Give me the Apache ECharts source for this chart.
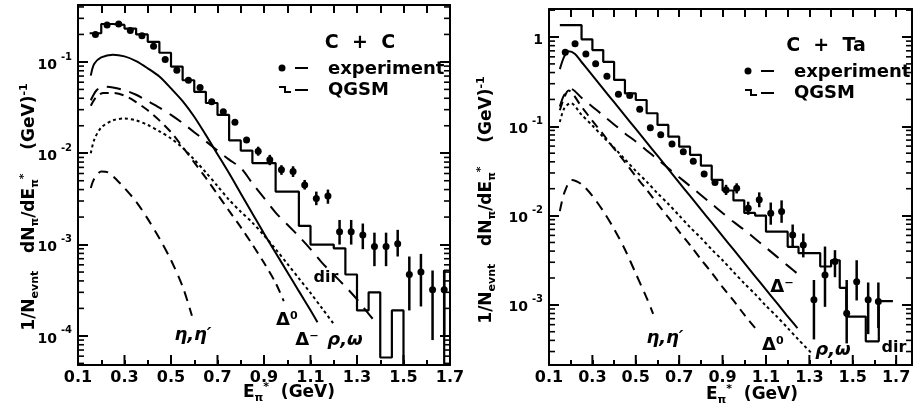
<!DOCTYPE html>
<html>
<head>
<meta charset="utf-8">
<script src="https://cdn.jsdelivr.net/npm/echarts@6/dist/echarts.min.js"></script>
<style>
  html, body { margin: 0; padding: 0; background: #fff; }
  #chart { width: 917px; height: 412px; }
</style>
</head>
<body>
<div id="chart"></div>
<script>
// ---------- data ----------
const xLabelVals = [0.1, 0.3, 0.5, 0.7, 0.9, 1.1, 1.3, 1.5, 1.7];

// C + C panel
const ccHistEdges = [0.15,0.20,0.25,0.30,0.35,0.40,0.45,0.50,0.55,0.60,0.65,0.70,0.75,0.80,0.85,0.90,0.95,1.00,1.05,1.10,1.15,1.20,1.25,1.30,1.35,1.40,1.45,1.50,1.675,1.70];
const ccHistVals = [0.206,0.260,0.254,0.232,0.200,0.166,0.126,0.089,0.063,0.047,0.0355,0.0263,0.0138,0.0107,0.0078,0.0078,0.0038,0.0038,0.0016,0.0010,0.0010,0.00091,0.00047,0.00019,0.00030,0.000058,0.00019,0.00001,0.00052];

const ccExpE  = [0.175,0.225,0.275,0.325,0.375,0.425,0.475,0.525,0.575,0.625,0.675,0.725,0.775,0.825,0.875,0.925,0.975,1.025,1.075,1.125,1.175,1.225,1.275,1.325,1.375,1.425,1.475,1.525,1.575,1.625,1.675];
const ccExpY  = [0.1995,0.254,0.260,0.221,0.193,0.148,0.106,0.0813,0.0631,0.0525,0.0367,0.0285,0.0219,0.0140,0.0105,0.0085,0.0066,0.0063,0.0045,0.0032,0.0034,0.00138,0.00138,0.00127,0.00095,0.00095,0.00102,0.00047,0.00050,0.00032,0.00032];
const ccExpLo = [null,null,null,null,null,null,null,null,null,null,null,null,null,null,0.0094,0.0074,0.0058,0.0055,0.0040,0.0027,0.0028,0.0010,0.0010,0.00089,0.00058,0.00058,0.00074,0.00019,0.00021,0.00009,0.00010];
const ccExpHi = [null,null,null,null,null,null,null,null,null,null,null,null,null,null,0.0118,0.0096,0.0074,0.0072,0.0051,0.0038,0.0040,0.00186,0.00186,0.0017,0.00135,0.00135,0.00145,0.00074,0.00079,0.00052,0.00052];

const ccSolidE = [0.155,0.17,0.2,0.25,0.3,0.35,0.4,0.45,0.5,0.55,0.6,0.65,0.7,0.75,0.8,0.85,0.9,0.95,1.0,1.05,1.1,1.13];
const ccSolidY = [0.0708,0.0955,0.112,0.120,0.115,0.102,0.0851,0.0692,0.0513,0.0372,0.0251,0.0158,0.00977,0.00603,0.00363,0.00219,0.00132,0.000813,0.000501,0.000309,0.000191,0.000141];
const ccLongE = [0.155,0.18,0.21,0.25,0.3,0.35,0.4,0.45,0.5,0.55,0.6,0.65,0.7,0.75,0.8,0.85,0.9,0.95,1.0,1.05,1.1,1.15,1.2,1.25,1.3,1.35,1.38];
const ccLongY = [0.0380,0.0490,0.0537,0.0525,0.0490,0.0437,0.0372,0.0316,0.0263,0.0214,0.0170,0.0135,0.0107,0.00851,0.00692,0.00468,0.00324,0.00224,0.00166,0.00123,0.000891,0.000631,0.000468,0.000347,0.000251,0.000174,0.000141];
const ccMedE = [0.155,0.18,0.21,0.25,0.3,0.35,0.4,0.45,0.5,0.55,0.6,0.65,0.7,0.75,0.8,0.85,0.9,0.95,0.985];
const ccMedY = [0.0331,0.0417,0.0457,0.0457,0.0427,0.0363,0.0295,0.0229,0.0170,0.0117,0.00794,0.00537,0.00355,0.00234,0.00155,0.00100,0.000631,0.000380,0.000240];
const ccDotE = [0.155,0.17,0.2,0.25,0.3,0.35,0.4,0.45,0.5,0.55,0.6,0.65,0.7,0.75,0.8,0.85,0.9,0.95,1.0,1.05,1.1,1.15,1.2];
const ccDotY = [0.0100,0.0141,0.0191,0.0229,0.0240,0.0229,0.0204,0.0174,0.0145,0.0115,0.00851,0.00617,0.00437,0.00309,0.00229,0.00174,0.00126,0.000891,0.000617,0.000427,0.000295,0.000200,0.000135];
const ccEtaE = [0.155,0.17,0.2,0.23,0.27,0.3,0.35,0.4,0.45,0.5,0.55,0.59];
const ccEtaY = [0.00417,0.00525,0.00631,0.00617,0.00501,0.00417,0.00295,0.00191,0.00117,0.000676,0.000347,0.000166];

// C + Ta panel
const ctHistEdges = [0.15,0.20,0.25,0.30,0.35,0.40,0.45,0.50,0.55,0.60,0.65,0.70,0.75,0.80,0.85,0.90,0.95,1.00,1.05,1.10,1.15,1.20,1.25,1.30,1.35,1.40,1.44,1.47,1.56,1.62,1.685];
const ctHistVals = [1.36,1.36,0.942,0.714,0.528,0.331,0.234,0.197,0.140,0.1035,0.0766,0.0592,0.0479,0.0363,0.0251,0.0191,0.0148,0.0107,0.0100,0.0066,0.0066,0.00447,0.0038,0.0038,0.00269,0.00316,0.00155,0.00074,0.00039,0.0011];

const ctExpE  = [0.175,0.22,0.27,0.315,0.367,0.42,0.472,0.518,0.567,0.615,0.667,0.719,0.765,0.815,0.865,0.916,0.965,1.018,1.069,1.122,1.172,1.223,1.272,1.321,1.372,1.418,1.472,1.518,1.571,1.618];
const ctExpY  = [0.676,0.841,0.646,0.501,0.363,0.229,0.221,0.155,0.0966,0.0804,0.0634,0.052,0.0407,0.0292,0.0234,0.0194,0.0202,0.0121,0.0150,0.0106,0.0111,0.00607,0.00468,0.00114,0.00216,0.00305,0.000805,0.00182,0.00114,0.00109];
const ctExpLo = [null,null,null,null,null,null,null,null,null,null,null,null,null,null,null,0.0170,0.0177,0.0102,0.0124,0.0079,0.0083,0.00437,0.0034,0.00041,0.00095,0.00204,0.00037,0.00112,0.00047,0.00055];
const ctExpHi = [null,null,null,null,null,null,null,null,null,null,null,null,null,null,null,0.0221,0.0230,0.0143,0.0182,0.0140,0.0148,0.00794,0.0063,0.0019,0.0045,0.0041,0.0019,0.00316,0.00178,0.00178];

const ctSolidE = [0.15,0.17,0.19,0.22,0.25,0.3,0.35,0.4,0.45,0.5,0.55,0.6,0.65,0.7,0.75,0.8,0.85,0.9,0.95,1.0,1.05,1.1,1.15,1.2,1.245];
const ctSolidY = [0.437,0.603,0.692,0.646,0.525,0.372,0.263,0.186,0.132,0.0933,0.0661,0.0468,0.0331,0.0234,0.0166,0.0117,0.00832,0.00589,0.00417,0.00295,0.00209,0.00148,0.00105,0.000741,0.000550];
const ctLongE = [0.15,0.17,0.2,0.25,0.3,0.35,0.4,0.45,0.5,0.55,0.6,0.65,0.7,0.75,0.8,0.85,0.9,0.95,1.0,1.05,1.1,1.15,1.2,1.26];
const ctLongY = [0.166,0.224,0.263,0.209,0.166,0.132,0.105,0.0832,0.0676,0.0537,0.0427,0.0339,0.0269,0.0214,0.0170,0.0135,0.0107,0.00851,0.00692,0.00550,0.00437,0.00347,0.00275,0.00209];
const ctMedE = [0.15,0.17,0.19,0.25,0.3,0.35,0.4,0.45,0.5,0.55,0.6,0.65,0.7,0.75,0.8,0.85,0.9,0.95,1.0,1.057];
const ctMedY = [0.151,0.209,0.251,0.166,0.115,0.0813,0.0562,0.0398,0.0275,0.0195,0.0135,0.00955,0.00661,0.00468,0.00324,0.00229,0.00158,0.00112,0.000776,0.000525];
const ctDotE = [0.15,0.17,0.2,0.25,0.3,0.35,0.4,0.45,0.5,0.55,0.6,0.65,0.7,0.75,0.8,0.85,0.9,0.95,1.0,1.05,1.1,1.15,1.2,1.25,1.31];
const ctDotY = [0.112,0.158,0.182,0.135,0.102,0.0759,0.0575,0.0427,0.0316,0.0240,0.0178,0.0135,0.0100,0.00741,0.00562,0.00417,0.00316,0.00234,0.00174,0.00132,0.000977,0.000741,0.000550,0.000407,0.000288];
const ctEtaE = [0.15,0.17,0.205,0.25,0.3,0.35,0.4,0.45,0.5,0.55,0.58];
const ctEtaY = [0.0112,0.0178,0.0251,0.0224,0.0166,0.0112,0.00708,0.00417,0.00224,0.00120,0.000794];

// ---------- helpers ----------
const INK = '#000';
const FONT = 'DejaVu Sans';

function pairs(xs, ys) { return xs.map((x, i) => [x, ys[i]]); }
function stepData(edges, vals) {
  const d = vals.map((v, i) => [edges[i], v]);
  d.push([edges[edges.length - 1], vals[vals.length - 1]]);
  return d;
}
function decadeTicks(min, max) {
  const out = [];
  for (let e = Math.ceil(Math.log10(min)); e <= Math.floor(Math.log10(max)); e++) out.push(Math.pow(10, e));
  return out;
}
// 2..9 x 10^n between min and max, for the small log ticks
function minorLogTicks(min, max) {
  const out = [];
  for (let e = Math.floor(Math.log10(min)); e <= Math.ceil(Math.log10(max)); e++) {
    for (let m = 2; m <= 9; m++) {
      const v = parseFloat((m * Math.pow(10, e)).toPrecision(3));
      if (v > min && v < max) out.push(v);
    }
  }
  return out;
}
function powLabel(v) {
  const e = Math.round(Math.log10(v));
  return e === 0 ? '{b|1}' : '{b|10}{s|' + e + '}';
}

function xAxesFor(g, max) {
  const base = { gridIndex: g, type: 'value', min: 0.1, max: max, interval: 0.1, splitLine: { show: false } };
  return [
    Object.assign({}, base, {
      position: 'bottom',
      axisLine: { show: true, onZero: false, lineStyle: { color: INK, width: 2 } },
      axisTick: { show: true, inside: true, length: 5, lineStyle: { color: INK, width: 2 } },
      axisLabel: { customValues: xLabelVals, formatter: v => v.toFixed(1), color: INK,
        fontFamily: FONT, fontWeight: 'bold', fontSize: 16, margin: 5 }
    }),
    Object.assign({}, base, {
      position: 'top',
      axisLine: { show: true, onZero: false, lineStyle: { color: INK, width: 2 } },
      axisTick: { show: true, inside: true, length: 8, lineStyle: { color: INK, width: 2 } },
      axisLabel: { show: false }
    })
  ];
}

function yAxesFor(g, min, max) {
  const major = decadeTicks(min, max);
  const base = { gridIndex: g, type: 'log', logBase: 10, min: min, max: max,
    splitLine: { show: false }, axisLabel: { show: false } };
  const line = { show: true, onZero: false, lineStyle: { color: INK, width: 2 } };
  const tick = { show: true, inside: true, length: 10, lineStyle: { color: INK, width: 2 } };
  return [
    Object.assign({}, base, {
      position: 'left', axisLine: line, axisTick: tick,
      axisLabel: { show: true, customValues: major, formatter: powLabel, margin: 6, color: INK,
        rich: {
          b: { fontFamily: FONT, fontWeight: 'bold', fontSize: 14, lineHeight: 20, verticalAlign: 'bottom', color: INK },
          s: { fontFamily: FONT, fontWeight: 'bold', fontSize: 10, lineHeight: 10, verticalAlign: 'top', color: INK, padding: [0, 0, 0, 4] }
        } }
    }),
    Object.assign({}, base, { position: 'right', axisLine: line, axisTick: tick })
  ];
}

function curve(xi, yi, data, dash) {
  return { type: 'line', xAxisIndex: xi, yAxisIndex: yi, data: data, smooth: 0.3, symbol: 'none',
    silent: true, clip: true, lineStyle: { color: INK, width: 2, type: dash || 'solid' } };
}
function histSeries(xi, yi, data) {
  return { type: 'line', xAxisIndex: xi, yAxisIndex: yi, data: data, step: 'end', symbol: 'none',
    silent: true, clip: true, lineStyle: { color: INK, width: 2.2 } };
}
function pointsSeries(xi, yi, data) {
  return { type: 'scatter', xAxisIndex: xi, yAxisIndex: yi, data: data, symbol: 'circle', symbolSize: 7,
    silent: true, z: 5, itemStyle: { color: INK, opacity: 1 } };
}
function errorSeries(xi, yi, xs, lo, hi) {
  const data = [];
  xs.forEach((x, i) => { if (lo[i] != null) data.push([x, lo[i], hi[i]]); });
  return {
    type: 'custom', xAxisIndex: xi, yAxisIndex: yi, data: data, silent: true, clip: true, z: 4,
    encode: { x: 0, y: [1, 2] },
    renderItem: function (params, api) {
      const a = api.coord([api.value(0), api.value(1)]);
      const b = api.coord([api.value(0), api.value(2)]);
      return { type: 'line', shape: { x1: a[0], y1: a[1], x2: b[0], y2: b[1] },
        style: { stroke: INK, lineWidth: 2.5 } };
    }
  };
}

// ---------- text decorations ----------
const titleRich = {
  a: { fontFamily: FONT, fontWeight: 'bold', fontSize: 17, lineHeight: 22, verticalAlign: 'middle', fill: INK },
  s: { fontFamily: FONT, fontWeight: 'bold', fontSize: 11, lineHeight: 11, verticalAlign: 'bottom', fill: INK },
  p: { fontFamily: FONT, fontWeight: 'bold', fontSize: 11, lineHeight: 11, verticalAlign: 'top', fill: INK }
};
const yTitle = '{a|1/N}{s|evnt}{a|   dN}{s|π}{a|/dE}{s|π}{p|*}{a|    (GeV)}{p|-1}';
const xTitle = '{a|E}{s|π}{p|*}{a|  (GeV)}';

function txt(x, y, text, opts) {
  return { type: 'text', x: x, y: y, silent: true,
    style: Object.assign({ text: text, fill: INK, fontFamily: FONT, fontWeight: 'bold', fontSize: 18,
      align: 'left', verticalAlign: 'middle' }, opts || {}) };
}
function seg(x1, y1, x2, y2, w) {
  return { type: 'line', silent: true, z: 10, shape: { x1: x1, y1: y1, x2: x2, y2: y2 }, style: { stroke: INK, lineWidth: w || 2 } };
}
function legendBlock(dx, dy, label) {
  return [
    txt(dx + 78, dy, label, { align: 'center', fontSize: 19 }),
    { type: 'circle', silent: true, shape: { cx: dx, cy: dy + 25, r: 3.5 }, style: { fill: INK } },
    seg(dx + 13, dy + 25, dx + 26, dy + 25),
    txt(dx + 46, dy + 26, 'experiment', { fontSize: 18 }),
    { type: 'polyline', silent: true, shape: { points: [[dx - 3, dy + 44], [dx + 3, dy + 44], [dx + 3, dy + 49], [dx + 9, dy + 49]] },
      style: { stroke: INK, lineWidth: 2, fill: null } },
    seg(dx + 13, dy + 47, dx + 26, dy + 47),
    txt(dx + 46, dy + 47, 'QGSM', { fontSize: 18 })
  ];
}

// ---------- panel frames ----------
const ccMin = 4.8e-5, ccMax = 0.42, ctMin = 2.12e-4, ctMax = 2.06;
const ccXMax = 1.7, ctXMax = 1.773;
const grids = [
  { left: 78, top: 5, width: 372, height: 360 },
  { left: 549, top: 9, width: 363, height: 356 }
];
const frames = [
  { g: grids[0], xmin: 0.1, xmax: ccXMax, ymin: ccMin, ymax: ccMax },
  { g: grids[1], xmin: 0.1, xmax: ctXMax, ymin: ctMin, ymax: ctMax }
];
// small log ticks on both frame sides and longer ticks at the labelled energies,
// using the same linear / log10 mapping the axes apply inside each grid
const tickEls = [];
frames.forEach(f => {
  const g = f.g;
  const lmin = Math.log10(f.ymin), lmax = Math.log10(f.ymax);
  const py = v => g.top + g.height * (lmax - Math.log10(v)) / (lmax - lmin);
  const px = x => g.left + g.width * (x - f.xmin) / (f.xmax - f.xmin);
  minorLogTicks(f.ymin, f.ymax).forEach(v => {
    const y = py(v);
    tickEls.push(seg(g.left, y, g.left + 6, y, 1.6), seg(g.left + g.width - 6, y, g.left + g.width, y, 1.6));
  });
  xLabelVals.filter(x => x > f.xmin && x < f.xmax).forEach(x => {
    const x0 = px(x), y0 = g.top + g.height;
    tickEls.push(seg(x0, y0, x0, y0 - 10, 2));
  });
});

const graphics = [].concat(
  legendBlock(282, 43, 'C  +  C'),
  legendBlock(748, 46, 'C  +  Ta'),
  tickEls,
  [
    { type: 'text', x: 30, y: 207, rotation: Math.PI / 2, silent: true,
      style: { text: yTitle, rich: titleRich, align: 'center', verticalAlign: 'middle' } },
    { type: 'text', x: 487, y: 200, rotation: Math.PI / 2, silent: true,
      style: { text: yTitle, rich: titleRich, align: 'center', verticalAlign: 'middle' } },
    { type: 'text', x: 289, y: 393, silent: true, style: { text: xTitle, rich: titleRich, align: 'center', verticalAlign: 'middle' } },
    { type: 'text', x: 752, y: 395, silent: true, style: { text: xTitle, rich: titleRich, align: 'center', verticalAlign: 'middle' } },
    // curve labels, C + C
    txt(193, 335, 'η,η′', { align: 'center', fontStyle: 'italic' }),
    txt(287, 320, 'Δ⁰', { align: 'center' }),
    txt(307, 340, 'Δ⁻', { align: 'center' }),
    txt(345, 340, 'ρ,ω', { align: 'center', fontStyle: 'italic' }),
    txt(326, 278, 'dir', { align: 'center', fontSize: 16 }),
    // curve labels, C + Ta
    txt(665, 338, 'η,η′', { align: 'center', fontStyle: 'italic' }),
    txt(773, 345, 'Δ⁰', { align: 'center' }),
    txt(782, 287, 'Δ⁻', { align: 'center' }),
    txt(833, 350, 'ρ,ω', { align: 'center', fontStyle: 'italic' }),
    txt(894, 348, 'dir', { align: 'center', fontSize: 16 })
  ]
);

// ---------- chart ----------
const chart = echarts.init(document.getElementById('chart'), null, { renderer: 'canvas' });

const option = {
  backgroundColor: '#fff',
  animation: false,
  grid: grids,
  xAxis: [].concat(xAxesFor(0, ccXMax), xAxesFor(1, ctXMax)),
  yAxis: [].concat(yAxesFor(0, ccMin, ccMax), yAxesFor(1, ctMin, ctMax)),
  series: [
    histSeries(0, 0, stepData(ccHistEdges, ccHistVals)),
    curve(0, 0, pairs(ccSolidE, ccSolidY)),
    curve(0, 0, pairs(ccLongE, ccLongY), [14, 9]),
    curve(0, 0, pairs(ccMedE, ccMedY), [9, 6]),
    curve(0, 0, pairs(ccDotE, ccDotY), [3, 3]),
    curve(0, 0, pairs(ccEtaE, ccEtaY), [10, 7]),
    errorSeries(0, 0, ccExpE, ccExpLo, ccExpHi),
    pointsSeries(0, 0, pairs(ccExpE, ccExpY)),

    histSeries(2, 2, stepData(ctHistEdges, ctHistVals)),
    curve(2, 2, pairs(ctSolidE, ctSolidY)),
    curve(2, 2, pairs(ctLongE, ctLongY), [14, 9]),
    curve(2, 2, pairs(ctMedE, ctMedY), [9, 6]),
    curve(2, 2, pairs(ctDotE, ctDotY), [3, 3]),
    curve(2, 2, pairs(ctEtaE, ctEtaY), [10, 7]),
    errorSeries(2, 2, ctExpE, ctExpLo, ctExpHi),
    pointsSeries(2, 2, pairs(ctExpE, ctExpY))
  ],
  graphic: graphics
};
chart.setOption(option);
</script>
</body>
</html>
